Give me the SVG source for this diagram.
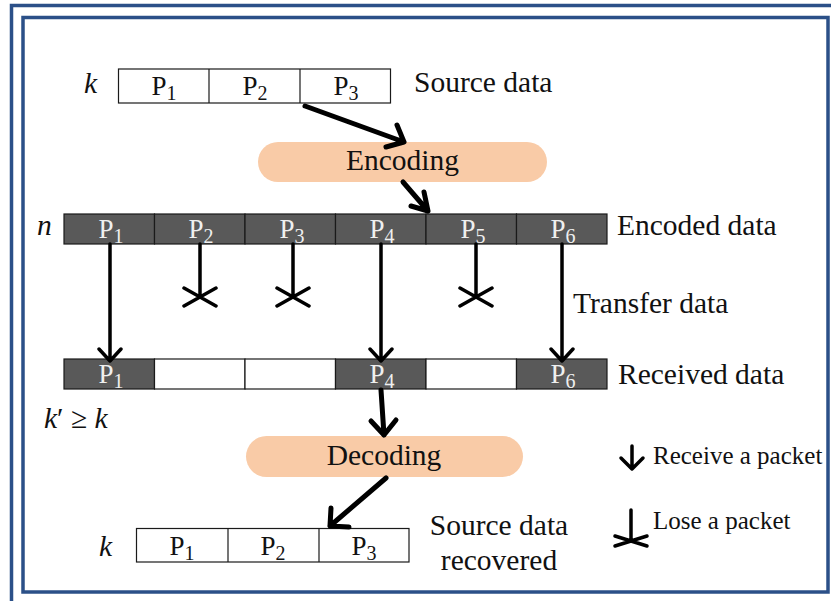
<svg xmlns="http://www.w3.org/2000/svg" width="831" height="601" viewBox="0 0 831 601">
  <defs>
    <style>
      .frame { fill: none; stroke: #2b5088; stroke-width: 3.5; }
      .cell { stroke: #1a1a1a; stroke-width: 1.2; }
      .src { fill: #ffffff; }
      .dark { fill: #595959; }
      .empty { fill: #ffffff; }
      .pill { fill: #f9cba7; }
      .lbl { font-family: "Liberation Serif", "Times New Roman", serif; font-size: 29.5px; fill: #111; }
      .leg { font-family: "Liberation Serif", "Times New Roman", serif; font-size: 25px; fill: #111; }
      .pk { font-family: "Liberation Serif", "Times New Roman", serif; font-size: 27px; fill: #111; text-anchor: middle; }
      .pkw { fill: #efefef; }
      .sub { font-size: 20px; }
      .it { font-style: italic; }
      .thick { fill: none; stroke: #000; stroke-width: 5; stroke-linecap: round; stroke-linejoin: round; }
      .thin { fill: none; stroke: #000; stroke-width: 3.5; stroke-linecap: round; stroke-linejoin: round; }
    </style>
  </defs>

  <rect width="831" height="601" fill="#ffffff"/>

  <!-- double frame -->
  <rect class="frame" x="11.5" y="5.5" width="840" height="610"/>
  <rect class="frame" x="23" y="17.5" width="805" height="574.5"/>

  <!-- source data -->
  <g id="source">
    <text class="lbl it" x="84" y="93">k</text>
    <rect class="cell src" x="118.5" y="69" width="272" height="34"/>
    <line class="cell" x1="209" y1="69" x2="209" y2="103"/>
    <line class="cell" x1="300" y1="69" x2="300" y2="103"/>
    <text class="pk" x="164" y="95">P<tspan class="sub" dy="5">1</tspan></text>
    <text class="pk" x="255" y="95">P<tspan class="sub" dy="5">2</tspan></text>
    <text class="pk" x="346" y="95">P<tspan class="sub" dy="5">3</tspan></text>
    <text class="lbl" x="414" y="92">Source data</text>
  </g>

  <g id="encoding">
    <rect class="pill" x="258" y="142" width="289" height="40" rx="20"/>
    <text class="lbl" x="402.5" y="170" text-anchor="middle">Encoding</text>
  </g>

  <!-- encoded data -->
  <g id="encoded">
    <text class="lbl it" x="37" y="235">n</text>
    <rect class="cell dark" x="64" y="214" width="90.5" height="30"/>
    <rect class="cell dark" x="154.5" y="214" width="90.5" height="30"/>
    <rect class="cell dark" x="245" y="214" width="90.5" height="30"/>
    <rect class="cell dark" x="335.5" y="214" width="90.5" height="30"/>
    <rect class="cell dark" x="426" y="214" width="90.5" height="30"/>
    <rect class="cell dark" x="516.5" y="214" width="90.5" height="30"/>
    <text class="pk pkw" x="111" y="238">P<tspan class="sub" dy="5">1</tspan></text>
    <text class="pk pkw" x="201" y="238">P<tspan class="sub" dy="5">2</tspan></text>
    <text class="pk pkw" x="292" y="238">P<tspan class="sub" dy="5">3</tspan></text>
    <text class="pk pkw" x="382" y="238">P<tspan class="sub" dy="5">4</tspan></text>
    <text class="pk pkw" x="473" y="238">P<tspan class="sub" dy="5">5</tspan></text>
    <text class="pk pkw" x="563" y="238">P<tspan class="sub" dy="5">6</tspan></text>
    <text class="lbl" x="617" y="235">Encoded data</text>
  </g>

  <text id="transfer" class="lbl" x="573" y="313">Transfer data</text>

  <!-- received data -->
  <g id="received">
    <rect class="cell dark" x="64" y="359" width="90.5" height="30"/>
    <rect class="cell empty" x="154.5" y="359" width="90.5" height="30"/>
    <rect class="cell empty" x="245" y="359" width="90.5" height="30"/>
    <rect class="cell dark" x="335.5" y="359" width="90.5" height="30"/>
    <rect class="cell empty" x="426" y="359" width="90.5" height="30"/>
    <rect class="cell dark" x="516.5" y="359" width="90.5" height="30"/>
    <text class="pk pkw" x="111" y="383">P<tspan class="sub" dy="5">1</tspan></text>
    <text class="pk pkw" x="382" y="383">P<tspan class="sub" dy="5">4</tspan></text>
    <text class="pk pkw" x="563" y="383">P<tspan class="sub" dy="5">6</tspan></text>
    <text class="lbl" x="618" y="384">Received data</text>
  </g>

  <text id="kprime" class="lbl" x="44" y="428"><tspan class="it">k</tspan>′ ≥ <tspan class="it">k</tspan></text>

  <g id="decoding">
    <rect class="pill" x="246" y="436" width="277" height="41" rx="20.5"/>
    <text class="lbl" x="384" y="465" text-anchor="middle">Decoding</text>
  </g>

  <!-- recovered source data -->
  <g id="recovered">
    <text class="lbl it" x="99" y="556">k</text>
    <rect class="cell src" x="136.5" y="528.5" width="272.5" height="33.5"/>
    <line class="cell" x1="228" y1="528.5" x2="228" y2="562"/>
    <line class="cell" x1="319" y1="528.5" x2="319" y2="562"/>
    <text class="pk" x="182" y="555">P<tspan class="sub" dy="5">1</tspan></text>
    <text class="pk" x="273" y="555">P<tspan class="sub" dy="5">2</tspan></text>
    <text class="pk" x="364" y="555">P<tspan class="sub" dy="5">3</tspan></text>
    <text class="lbl" x="499" y="535" text-anchor="middle">Source data</text>
    <text class="lbl" x="499" y="570" text-anchor="middle">recovered</text>
  </g>

  <!-- legend -->
  <g id="legend">
    <path class="thin" d="M632 446 V469 M621 458 L632 469 L643 458"/>
    <text class="leg" x="653" y="464">Receive a packet</text>
    <path class="thin" d="M631 510 V541 M615 536 L647 546 M615 546 L647 536"/>
    <text class="leg" x="653" y="529">Lose a packet</text>
  </g>

  <g id="connectors">
    <!-- encode / decode flow -->
    <path class="thick" d="M305 106 L404 142 M397 125 L404 142 L386 147"/>
    <path class="thick" d="M403 182 L428 211 M424 192 L428 211 L411 206"/>
    <path class="thick" d="M381 390 L384 435 M371 421 L384 435 L396 420"/>
    <path class="thick" d="M386 478 L330 526 M331 508 L330 526 L349 527"/>
    <!-- received packets -->
    <path class="thin" d="M110 244 V361 M99 349 L110 361 L121 349"/>
    <path class="thin" d="M381 244 V361 M370 349 L381 361 L392 349"/>
    <path class="thin" d="M562 244 V361 M551 349 L562 361 L573 349"/>
    <!-- lost packets -->
    <path class="thin" d="M200 244 V297 M184 288 L216 306 M184 306 L216 288"/>
    <path class="thin" d="M293 244 V297 M277 288 L309 306 M277 306 L309 288"/>
    <path class="thin" d="M476 244 V297 M460 288 L492 306 M460 306 L492 288"/>
  </g>
</svg>
